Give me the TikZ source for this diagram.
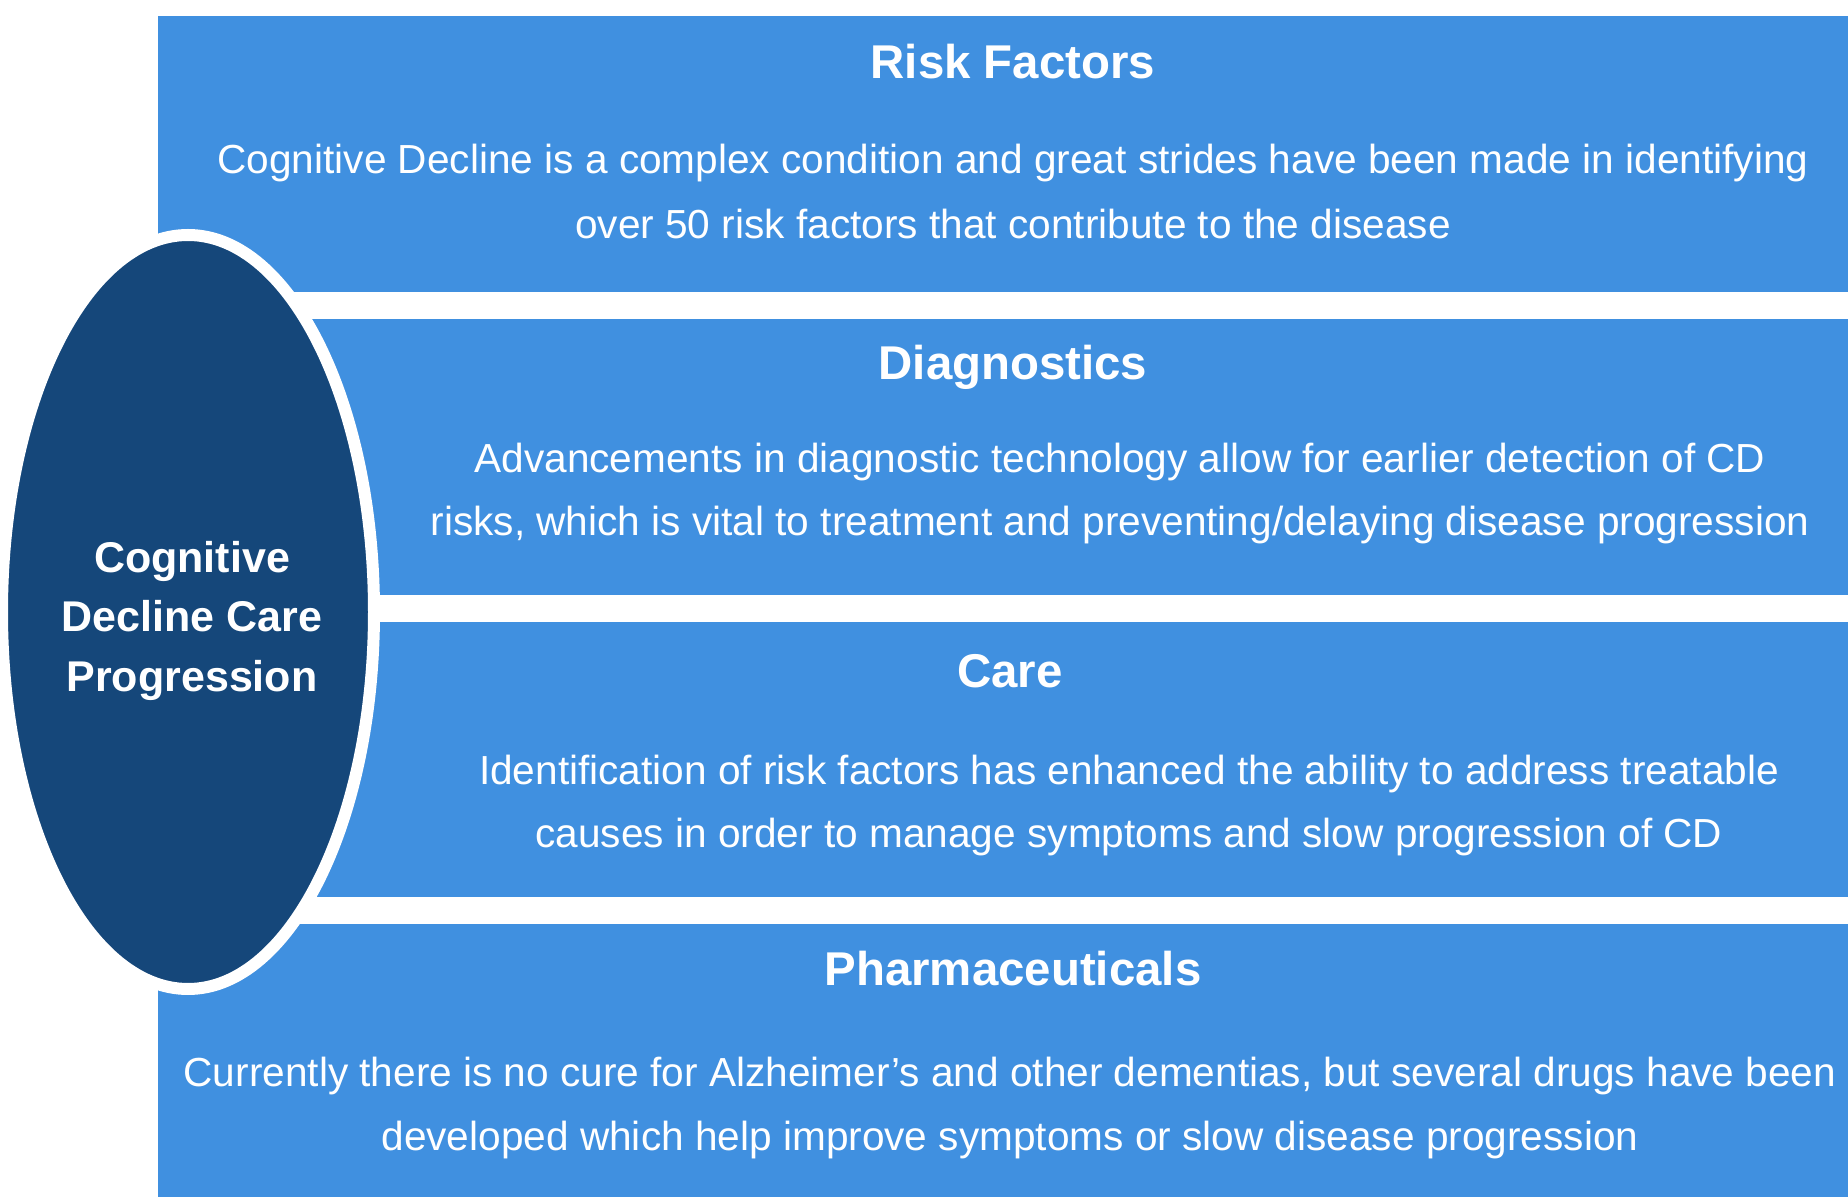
\documentclass[tikz,border=0pt]{standalone}
\usepackage{fontspec}
\setmainfont{Liberation Sans}
\usetikzlibrary{shapes.geometric}
\definecolor{bandblue}{HTML}{4090E0}
\definecolor{navy}{HTML}{15477A}
\tikzset{
  band/.style={fill=bandblue},
  headtext/.style={anchor=base, inner sep=0pt, text=white, font=\fontsize{23.7}{28}\selectfont\bfseries},
  bodytext/.style={anchor=base, inner sep=0pt, text=white, font=\fontsize{20.3}{24}\selectfont},
  coretext/.style={anchor=base, inner sep=0pt, text=white, font=\fontsize{21.5}{25}\selectfont\bfseries},
  coreshape/.style={ellipse, fill=navy, draw=white, line width=6pt, minimum width=186pt, minimum height=377pt, inner sep=0pt}
}
\begin{document}
\begin{tikzpicture}[x=0.5pt,y=-0.5pt]
\useasboundingbox (0,0) rectangle (1848,1197);
% bands
\fill[band] (158,16) rectangle (1848,292);
\fill[band] (158,319) rectangle (1848,595);
\fill[band] (158,622) rectangle (1848,897);
\fill[band] (158,924) rectangle (1848,1197);
% central ellipse
\node[coreshape] (core) at (188,612) {};
\node[coretext] (c1) at (192,573) {Cognitive};
\node[coretext] (c2) at (192,632) {Decline Care};
\node[coretext] (c3) at (192,691) {Progression};
% band 1
\node[headtext] (h1) at (1013,79) {Risk Factors};
\node[bodytext] (b1a) at (1013,174) {Cognitive Decline is a complex condition and great strides have been made in identifying};
\node[bodytext] (b1b) at (1013,239) {over 50 risk factors that contribute to the disease};
% band 2
\node[headtext] (h2) at (1013,380) {Diagnostics};
\node[bodytext] (b2a) at (1120,473) {Advancements in diagnostic technology allow for earlier detection of CD};
\node[bodytext] (b2b) at (1120,536) {risks, which is vital to treatment and preventing/delaying disease progression};
% band 3
\node[headtext] (h3) at (1010,688) {Care};
\node[bodytext] (b3a) at (1129,784) {Identification of risk factors has enhanced the ability to address treatable};
\node[bodytext] (b3b) at (1129,847) {causes in order to manage symptoms and slow progression of CD};
% band 4
\node[headtext] (h4) at (1013,985) {Pharmaceuticals};
\node[bodytext] (b4a) at (1010,1086) {Currently there is no cure for Alzheimer’s and other dementias, but several drugs have been};
\node[bodytext] (b4b) at (1010,1150) {developed which help improve symptoms or slow disease progression};
\end{tikzpicture}
\end{document}
